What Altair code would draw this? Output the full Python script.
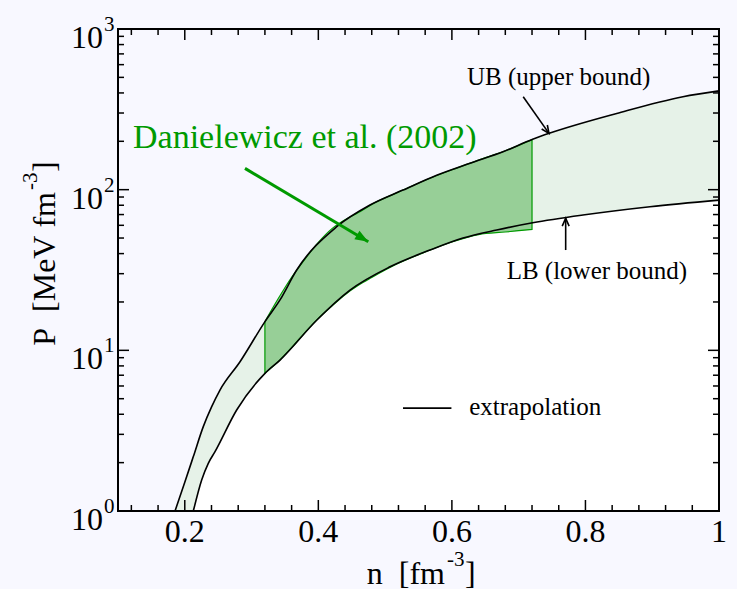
import altair as alt
import pandas as pd

FONT = "Liberation Serif"
GREEN = "#009a00"
BG = "#f8f8ff"
BAND_FILL = "#e6f2e8"
DAN_FILL = "#97cf97"

W, H = 601, 482

# ---- data ----
# Upper bound (UB)
ub_n = [0.1854, 0.2000, 0.2128, 0.2277, 0.2403, 0.2527, 0.2827, 0.3201, 0.3426, 0.3676,
        0.4275, 0.4774, 0.5268, 0.5772, 0.6271, 0.6765, 0.7210, 0.7469, 0.8468, 0.9460, 1.0000]
ub_P = [1.0, 1.51, 2.18, 3.35, 4.46, 5.66, 8.49, 15.1, 20.6, 31.6,
        58.8, 80.2, 99.4, 123, 146, 172, 206, 225, 298, 379, 412]

# Lower bound (LB)
lb_n = [0.2128, 0.2253, 0.2352, 0.2453, 0.2777, 0.3201, 0.3426, 0.3975, 0.4474, 0.5073,
        0.5672, 0.6166, 0.6671, 0.7210, 0.7963, 0.8966, 1.0000]
lb_P = [1.0, 1.56, 1.98, 2.34, 4.25, 7.19, 8.7, 15.4, 23.7, 33.1,
        42.1, 50.0, 56.1, 62.2, 69.5, 78.3, 86.1]

# Danielewicz et al. (2002) region
dan_n = [0.32, 0.34, 0.36, 0.38, 0.40, 0.42, 0.44, 0.46, 0.48, 0.52, 0.56, 0.60, 0.64, 0.68, 0.72]
dan_hi = [15.1, 21.0, 28.5, 37.0, 47.0, 57.0, 65.0, 72.0, 81.0, 96.6, 114.5, 133, 152.7, 174.6, 205]
dan_lo = [7.2, 8.5, 10.4, 12.9, 15.8, 18.8, 22.2, 25.4, 28.4, 34.8, 40.9, 47.2, 52.5, 54.5, 56.6]

# axes
x_tick_major = [0.2, 0.4, 0.6, 0.8]
x_tick_minor = [0.12, 0.16, 0.24, 0.28, 0.32, 0.36, 0.44, 0.48, 0.52, 0.56,
                0.64, 0.68, 0.72, 0.76, 0.84, 0.88, 0.92, 0.96]
x_label_vals = [0.2, 0.4, 0.6, 0.8, 1.0]
x_label_text = ["0.2", "0.4", "0.6", "0.8", "1"]
y_tick_major = [10, 100]
y_tick_minor = [2, 3, 4, 5, 6, 7, 8, 9, 20, 30, 40, 50, 60, 70, 80, 90,
                200, 300, 400, 500, 600, 700, 800, 900]
y_label_vals = [1, 10, 100, 1000]
y_label_exp = ["0", "1", "2", "3"]

ub_df = pd.DataFrame({"n": ub_n, "P": ub_P})
lb_df = pd.DataFrame({"n": lb_n, "P": lb_P})
dan_df = pd.DataFrame({"n": dan_n, "hi": dan_hi, "lo": dan_lo})
xmaj_df = pd.DataFrame({"n": x_tick_major})
xmin_df = pd.DataFrame({"n": x_tick_minor})
ymaj_df = pd.DataFrame({"P": y_tick_major})
ymin_df = pd.DataFrame({"P": y_tick_minor})
xlab_df = pd.DataFrame({"n": x_label_vals, "t": x_label_text})
ylab_df = pd.DataFrame({"P": y_label_vals, "e": y_label_exp})
one = pd.DataFrame({"k": [0]})

xs = alt.Scale(domain=[0.1, 1.0], zero=False, nice=False)
ys = alt.Scale(type="log", domain=[1, 1000], nice=False)


def X(f):
    return alt.X(f, type="quantitative", scale=xs, axis=None)


def Y(f):
    return alt.Y(f, type="quantitative", scale=ys, axis=None)


def XD(v):
    return alt.XDatum(v, type="quantitative", scale=xs, axis=None)


def YD(v):
    return alt.YDatum(v, type="quantitative", scale=ys, axis=None)


SMOOTH = "monotone"
layers = []

# band (extrapolation) fill under UB, then white under LB
layers.append(alt.Chart(ub_df).mark_area(color=BAND_FILL, interpolate=SMOOTH).encode(
    x=X("n"), y=Y("P"), y2=alt.Y2Datum(1)))
layers.append(alt.Chart(lb_df).mark_area(color="white", interpolate=SMOOTH).encode(
    x=X("n"), y=Y("P"), y2=alt.Y2Datum(1)))
# Danielewicz region
layers.append(alt.Chart(dan_df).mark_area(fill=DAN_FILL, stroke=GREEN, strokeWidth=1.2,
                                          interpolate=SMOOTH).encode(
    x=X("n"), y=Y("hi"), y2=alt.Y2("lo")))
# boundary lines
layers.append(alt.Chart(ub_df).mark_line(color="black", strokeWidth=1.6, interpolate=SMOOTH).encode(
    x=X("n"), y=Y("P")))
layers.append(alt.Chart(lb_df).mark_line(color="black", strokeWidth=1.6, interpolate=SMOOTH).encode(
    x=X("n"), y=Y("P")))

# ticks (pointing inward)
TK = dict(color="black", strokeWidth=1.5)
for df, ln in ((xmaj_df, 11), (xmin_df, 6)):
    layers.append(alt.Chart(df).mark_rule(**TK).encode(x=X("n"), y=alt.value(H), y2=alt.value(H - ln)))
    layers.append(alt.Chart(df).mark_rule(**TK).encode(x=X("n"), y=alt.value(0), y2=alt.value(ln)))
for df, ln in ((ymaj_df, 11), (ymin_df, 6)):
    layers.append(alt.Chart(df).mark_rule(**TK).encode(y=Y("P"), x=alt.value(0), x2=alt.value(ln)))
    layers.append(alt.Chart(df).mark_rule(**TK).encode(y=Y("P"), x=alt.value(W), x2=alt.value(W - ln)))

# tick labels
layers.append(alt.Chart(xlab_df).mark_text(font=FONT, fontSize=32, color="black", align="center",
                                           baseline="alphabetic").encode(
    x=X("n"), y=alt.value(H + 31), text="t:N"))
layers.append(alt.Chart(ylab_df).mark_text(font=FONT, fontSize=32, color="black", align="right",
                                           baseline="alphabetic", dy=19).encode(
    y=Y("P"), x=alt.value(-15), text=alt.value("10")))
layers.append(alt.Chart(ylab_df).mark_text(font=FONT, fontSize=21, color="black", align="left",
                                           baseline="alphabetic", dy=2).encode(
    y=Y("P"), x=alt.value(-14), text="e:N"))

# axis titles
TT = dict(font=FONT, color="black", baseline="alphabetic")
layers.append(alt.Chart(one).mark_text(text="n\u00a0\u00a0[fm", fontSize=32, align="right", **TT).encode(
    x=alt.value(327), y=alt.value(555)))
layers.append(alt.Chart(one).mark_text(text="-3", fontSize=21, align="left", **TT).encode(
    x=alt.value(329), y=alt.value(537)))
layers.append(alt.Chart(one).mark_text(text="]", fontSize=32, align="left", **TT).encode(
    x=alt.value(347), y=alt.value(555)))

layers.append(alt.Chart(one).mark_text(text="P\u00a0\u00a0[MeV\u00a0fm", fontSize=32, align="right",
                                       angle=270, **TT).encode(x=alt.value(-63), y=alt.value(163)))
layers.append(alt.Chart(one).mark_text(text="-3", fontSize=21, align="left", angle=270, **TT).encode(
    x=alt.value(-81), y=alt.value(161)))
layers.append(alt.Chart(one).mark_text(text="]", fontSize=32, align="left", angle=270, **TT).encode(
    x=alt.value(-63), y=alt.value(143)))

# annotations
layers.append(alt.Chart(one).mark_text(text="Danielewicz et al. (2002)", font=FONT, fontSize=34,
                                       color=GREEN, align="left", baseline="alphabetic").encode(
    x=XD(0.1225), y=YD(181.5)))
layers.append(alt.Chart(one).mark_text(text="UB (upper bound)", font=FONT, fontSize=25,
                                       color="black", align="left", baseline="alphabetic").encode(
    x=XD(0.6226), y=YD(447.6)))
layers.append(alt.Chart(one).mark_text(text="LB (lower bound)", font=FONT, fontSize=25,
                                       color="black", align="left", baseline="alphabetic").encode(
    x=XD(0.682), y=YD(27.7)))
layers.append(alt.Chart(one).mark_text(text="extrapolation", font=FONT, fontSize=25,
                                       color="black", align="left", baseline="alphabetic").encode(
    x=XD(0.626), y=YD(3.96)))
# legend line
layers.append(alt.Chart(one).mark_rule(color="black", strokeWidth=1.6).encode(
    x=XD(0.5268), x2=alt.X2Datum(0.5993), y=YD(4.37)))

# arrows
layers.append(alt.Chart(one).mark_rule(color=GREEN, strokeWidth=3).encode(
    x=XD(0.2902), y=YD(135.7), x2=alt.X2Datum(0.4748), y2=alt.Y2Datum(47.4)))
layers.append(alt.Chart(one).mark_point(shape="M0,0L-0.38,1L0.38,1Z", filled=True, color=GREEN,
                                        opacity=1, size=700, angle=120.8).encode(
    x=XD(0.4748), y=YD(47.4)))
layers.append(alt.Chart(one).mark_rule(color="black", strokeWidth=1.6).encode(
    x=XD(0.7068), y=YD(378.6), x2=alt.X2Datum(0.7454), y2=alt.Y2Datum(224)))
layers.append(alt.Chart(one).mark_point(shape="M-0.4,0.9L0,0L0.4,0.9", filled=False, color="black",
                                        strokeWidth=1.6, opacity=1, size=300, angle=144.9).encode(
    x=XD(0.7454), y=YD(224)))
layers.append(alt.Chart(one).mark_rule(color="black", strokeWidth=1.6).encode(
    x=XD(0.7704), y=YD(42.1), y2=alt.Y2Datum(66.3)))
layers.append(alt.Chart(one).mark_point(shape="M-0.4,0.9L0,0L0.4,0.9", filled=False, color="black",
                                        strokeWidth=1.6, opacity=1, size=300, angle=0).encode(
    x=XD(0.7704), y=YD(66.3)))

# frame
layers.append(alt.Chart(one).mark_rect(filled=False, stroke="black", strokeWidth=2).encode(
    x=alt.value(0), x2=alt.value(W), y=alt.value(0), y2=alt.value(H)))

chart = alt.layer(*layers).properties(
    width=W, height=H,
    autosize=alt.AutoSizeParams(type="none"),
    padding={"left": 118, "top": 29, "right": 18, "bottom": 78},
).configure(background=BG).configure_view(strokeWidth=0)

chart.save("out.html", embed_options={"renderer": "svg", "actions": False})
